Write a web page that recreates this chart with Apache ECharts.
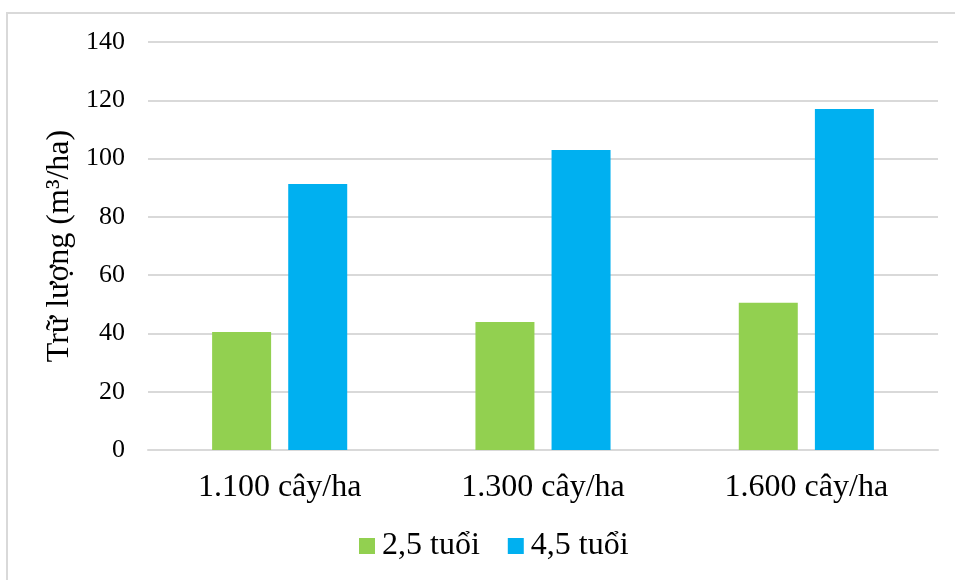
<!DOCTYPE html>
<html>
<head>
<meta charset="utf-8">
<script src="https://cdn.jsdelivr.net/npm/echarts@6/dist/echarts.min.js"></script>
<style>
	html, body { margin: 0; padding: 0; background: #fff; }
	#chart { width: 955px; height: 580px; }
</style>
</head>
<body>
<div id="chart"></div>
<script>
	// data
	var categories = ['1.100 cây/ha', '1.300 cây/ha', '1.600 cây/ha'];
	var seriesNames = ['2,5 tuổi', '4,5 tuổi'];
	var tuoi25 = [40.5, 43.9, 50.5];
	var tuoi45 = [91.3, 102.9, 117.0];
	var colors = ['#92d050', '#00b0f0'];

	var font = 'Liberation Serif, Times New Roman, serif';
	var myChart = echarts.init(document.getElementById('chart'));

	var option = {
		backgroundColor: '#fff',
		animation: false,
		color: colors,
		textStyle: { fontFamily: font, color: '#000' },
		graphic: [{
			type: 'rect',
			shape: { x: 7, y: 13, width: 960, height: 600 },
			style: { fill: 'none', stroke: '#d9d9d9', lineWidth: 2 },
			silent: true
		}],
		legend: {
			data: seriesNames,
			bottom: 13,
			left: 354,
			itemWidth: 16,
			itemHeight: 16,
			itemGap: 28,
			icon: 'rect',
			textStyle: { fontFamily: font, fontSize: 32, color: '#000', padding: [0, 0, 0, 2] }
		},
		grid: {
			left: 148,
			right: 17,
			top: 42,
			bottom: 130
		},
		xAxis: {
			type: 'category',
			data: categories,
			axisTick: { show: false },
			axisLine: { lineStyle: { color: '#d9d9d9', width: 2 } },
			axisLabel: {
				margin: 22,
				fontFamily: font,
				fontSize: 32,
				color: '#000'
			}
		},
		yAxis: {
			type: 'value',
			min: 0,
			max: 140,
			interval: 20,
			name: 'Trữ lượng (m³/ha)',
			nameLocation: 'middle',
			nameGap: 71,
			nameTextStyle: { fontFamily: font, fontSize: 32, color: '#000' },
			axisLine: { show: false },
			axisTick: { show: false },
			axisLabel: {
				margin: 23,
				fontFamily: font,
				fontSize: 26,
				color: '#000'
			},
			splitLine: { lineStyle: { color: '#d9d9d9', width: 2 } }
		},
		series: [{
			name: seriesNames[0],
			type: 'bar',
			data: tuoi25,
			barWidth: 59,
			barGap: '29%'
		}, {
			name: seriesNames[1],
			type: 'bar',
			data: tuoi45,
			barWidth: 59,
			barGap: '29%'
		}]
	};
	myChart.setOption(option);

	window.onresize = function() {
		myChart.resize();
	}
</script>
</body>
</html>
